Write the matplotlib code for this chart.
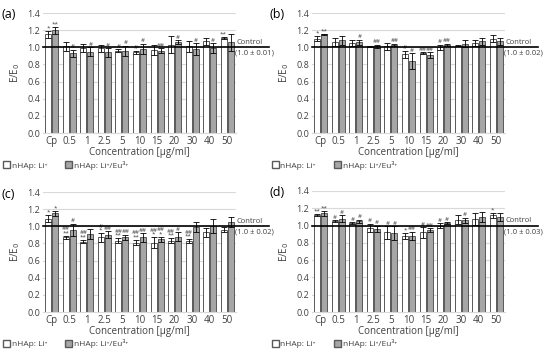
import matplotlib.pyplot as plt
from matplotlib.patches import Patch
import numpy as np

# datos
conc = ['Cp', '0.5', '1', '2.5', '5', '10', '15', '20', '30', '40', '50']

a_li = [1.15, 1.01, 0.99, 0.99, 0.96, 0.94, 0.97, 1.03, 1.01, 1.07, 1.11]
a_li_err = [0.04, 0.05, 0.05, 0.04, 0.02, 0.02, 0.06, 0.10, 0.06, 0.04, 0.01]
a_eu = [1.20, 0.93, 0.95, 0.94, 0.96, 0.98, 0.96, 1.06, 0.98, 0.99, 1.06]
a_eu_err = [0.04, 0.04, 0.05, 0.05, 0.06, 0.06, 0.03, 0.02, 0.07, 0.06, 0.10]
a_li_sig = ['*', '', '', '', '#', '#', '', '', '', '', '**']
a_eu_sig = ['**', '#', '#', '#', '#', '#', '##', '#', '#', '#', '']

b_li = [1.10, 1.06, 1.05, 1.01, 1.01, 0.92, 0.93, 1.00, 1.02, 1.05, 1.10]
b_li_err = [0.03, 0.05, 0.03, 0.01, 0.04, 0.04, 0.01, 0.03, 0.01, 0.03, 0.04]
b_eu = [1.15, 1.08, 1.06, 1.01, 1.03, 0.84, 0.91, 1.03, 1.04, 1.07, 1.07]
b_eu_err = [0.01, 0.05, 0.03, 0.02, 0.01, 0.09, 0.03, 0.01, 0.04, 0.04, 0.04]
b_li_sig = ['*', '', '', '', '', '#', '##', '#', '', '', '']
b_eu_sig = ['**', '', '#', '##', '##', '#', '##', '##', '', '', '']

c_li = [1.09, 0.87, 0.82, 0.87, 0.83, 0.81, 0.81, 0.83, 0.83, 0.93, 0.96]
c_li_err = [0.04, 0.02, 0.02, 0.05, 0.03, 0.03, 0.06, 0.03, 0.02, 0.05, 0.03]
c_eu = [1.15, 0.96, 0.91, 0.90, 0.87, 0.87, 0.85, 0.88, 0.99, 1.00, 1.05]
c_eu_err = [0.03, 0.07, 0.06, 0.04, 0.03, 0.05, 0.03, 0.05, 0.06, 0.08, 0.06]
c_li_sig = ['*', '##\n**', '##\n**', '#\n*', '##\n**', '##\n**', '##\n*', '##\n**', '##\n**', '', '']
c_eu_sig = ['*', '#', '', '##', '##', '##', '##\n*', '#', '', '', '']

d_li = [1.12, 1.05, 1.03, 0.97, 0.92, 0.88, 0.92, 1.00, 1.07, 1.08, 1.12]
d_li_err = [0.01, 0.01, 0.01, 0.05, 0.07, 0.03, 0.06, 0.03, 0.05, 0.07, 0.03]
d_eu = [1.14, 1.08, 1.05, 0.96, 0.91, 0.88, 0.95, 1.03, 1.06, 1.10, 1.10]
d_eu_err = [0.03, 0.04, 0.02, 0.04, 0.08, 0.05, 0.02, 0.01, 0.03, 0.06, 0.05]
d_li_sig = ['**', '#', '#', '#', '#', '*', '#', '#', '', '', '*']
d_eu_sig = ['**', '#', '#', '#', '#', '##', '##', '#', '#', '', '']

paneles = [
    ('(a)', a_li, a_li_err, a_eu, a_eu_err, a_li_sig, a_eu_sig, '(1.0 ± 0.01)'),
    ('(b)', b_li, b_li_err, b_eu, b_eu_err, b_li_sig, b_eu_sig, '(1.0 ± 0.02)'),
    ('(c)', c_li, c_li_err, c_eu, c_eu_err, c_li_sig, c_eu_sig, '(1.0 ± 0.02)'),
    ('(d)', d_li, d_li_err, d_eu, d_eu_err, d_li_sig, d_eu_sig, '(1.0 ± 0.03)'),
]

W, H = 550, 352
fig = plt.figure(figsize=(5.5, 3.52), dpi=100)
plt.rcParams['font.family'] = ['Open Sans', 'DejaVu Sans']

# posiciones en pixeles: izquierda, arriba (y=1.4), abajo (y=0)
pos = [(43, 13, 133), (312, 13, 133), (43, 192, 312), (312, 191, 312)]
ancho = 193
edge = '#595959'
gris = '#a6a6a6'

x = np.arange(len(conc))
bw = 0.34
for (lab, li, lie, eu, eue, lis, eus, ctrl), (l, t, b) in zip(paneles, pos):
    ax = fig.add_axes([l / W, 1 - b / H, ancho / W, (b - t) / H])
    ax.set_ylim(0, 1.4)
    ax.set_xlim(-0.5, len(conc) - 0.5)
    ax.set_yticks(np.arange(0, 1.41, 0.2))
    ax.set_yticklabels([f'{v:.1f}' for v in np.arange(0, 1.41, 0.2)], fontsize=6.5, color='#404040')
    ax.yaxis.grid(True, color='#d9d9d9', lw=0.8)
    ax.set_axisbelow(True)
    for s in ['top', 'right', 'left']:
        ax.spines[s].set_visible(False)
    ax.spines['bottom'].set_color('#d9d9d9')
    ax.tick_params(length=0, pad=2)
    ax.set_xticks(x)
    ax.set_xticklabels(conc, fontsize=7, color='#404040')
    ax.set_xlabel('Concentration [µg/ml]', fontsize=7, color='#404040', labelpad=0)
    ax.set_ylabel('E/E$_0$', fontsize=7, color='#404040', labelpad=4)

    ax.bar(x - 0.2, li, bw, yerr=lie, color='white', edgecolor=edge, lw=0.7,
           error_kw=dict(ecolor='black', elinewidth=0.6, capsize=2.5, capthick=0.6))
    ax.bar(x + 0.2, eu, bw, yerr=eue, color=gris, edgecolor=edge, lw=0.7,
           error_kw=dict(ecolor='black', elinewidth=0.6, capsize=2.5, capthick=0.6))

    for i in range(len(conc)):
        if lis[i]:
            ax.text(x[i] - 0.2, li[i] + lie[i] + 0.005, lis[i], ha='center', va='bottom',
                    fontsize=4.5, linespacing=0.8, color='#404040')
        if eus[i]:
            ax.text(x[i] + 0.2, eu[i] + eue[i] + 0.005, eus[i], ha='center', va='bottom',
                    fontsize=4.5, linespacing=0.8, color='#404040')

    # linea de control
    trans = ax.get_yaxis_transform()
    ax.plot([0, 1.17], [1.0, 1.0], color='black', lw=1.2, transform=trans, clip_on=False, zorder=5)
    ax.text(1.005, 1.02, 'Control', transform=trans, fontsize=5.5, va='bottom', ha='left', color='#404040')
    ax.text(0.995, 0.97, ctrl, transform=trans, fontsize=5.5, va='top', ha='left', color='#404040')

    ax.text((l - 42) / W, 1 - (t + 2) / H, lab, transform=fig.transFigure, fontsize=9,
            ha='left', va='center')

    # leyenda debajo
    handles = [Patch(facecolor='white', edgecolor=edge, label='nHAp: Li⁺'),
               Patch(facecolor=gris, edgecolor=edge, label='nHAp: Li⁺/Eu³⁺')]
    fig.legend(handles=handles, loc='center left', ncol=2, frameon=False, fontsize=6,
               bbox_to_anchor=((l - 44) / W, 1 - (b + 32) / H), handlelength=0.8,
               handleheight=0.8, handletextpad=0.2, columnspacing=2.2,
               labelcolor='#404040', borderpad=0)

fig.savefig('out.png', dpi=100)
